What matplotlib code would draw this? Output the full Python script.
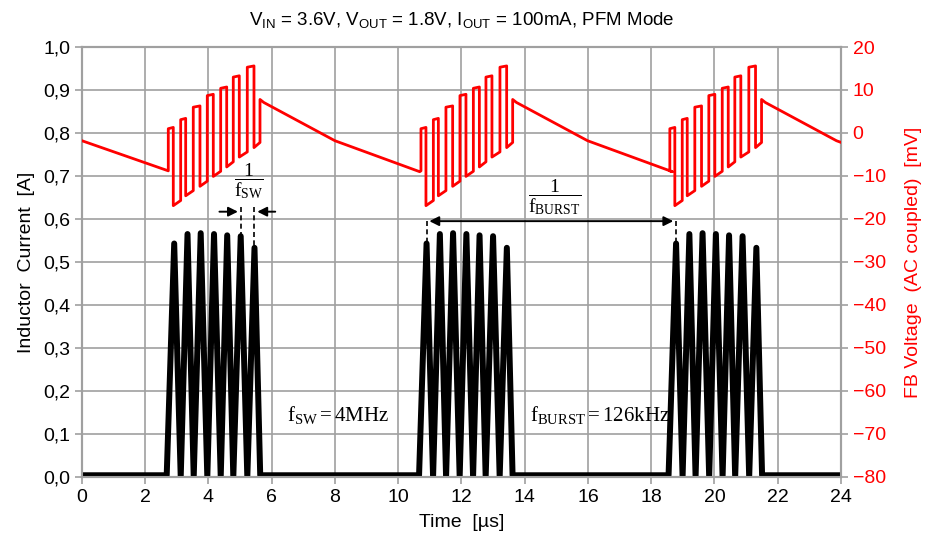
import matplotlib
matplotlib.use('Agg')
import matplotlib.pyplot as plt

plt.rcParams.update({
    'font.family': ['Liberation Sans', 'DejaVu Sans'],
    'mathtext.fontset': 'custom',
    'mathtext.rm': 'Liberation Serif',
    'mathtext.it': 'Liberation Serif:italic',
    'mathtext.bf': 'Liberation Serif:bold',
})

# ---- data ----
# inductor current bursts (time in us, current in A)
burst_start = [2.68, 10.66, 18.55]
peak_offsets = [0.237, 0.658, 1.075, 1.496, 1.913, 2.340, 2.776]
peak_current = [0.543, 0.565, 0.567, 0.565, 0.562, 0.560, 0.533]
valley_offsets = [0.443, 0.854, 1.284, 1.708, 2.106, 2.549]
burst_end_offset = 2.957
baseline_current = 0.004

# feedback voltage (mV), switching part relative to the first rising edge
fb_burst_rise = [2.73, 10.72, 18.59]
fb_rise_offsets = [0.0, 0.392, 0.790, 1.233, 1.657, 2.055, 2.498]
fb_fall_offsets = [0.158, 0.550, 1.002, 1.423, 1.847, 2.245, 2.710]
fb_top = [1.0, 3.1, 6.0, 8.7, 10.4, 13.0, 15.3]
fb_bottom = [-16.9, -14.6, -12.4, -10.1, -7.9, -5.6, -3.4]
fb_before = -8.8
fb_release_offset = 2.900
fb_decay_offsets = [0.0, 0.12, 2.37, 5.05]
fb_decay_mv = [7.8, 7.1, -1.8, -9.0]
fb_start_mv = -1.8

x_ticks = [0, 2, 4, 6, 8, 10, 12, 14, 16, 18, 20, 22, 24]
y_ticks = [0.0, 0.1, 0.2, 0.3, 0.4, 0.5, 0.6, 0.7, 0.8, 0.9, 1.0]
y_labels = ['0,0', '0,1', '0,2', '0,3', '0,4', '0,5', '0,6', '0,7', '0,8', '0,9', '1,0']
fb_ticks = [-80, -70, -60, -50, -40, -30, -20, -10, 0, 10, 20]

# ---- build the piecewise waveforms from the breakpoints ----
t_il, i_l = [0.0], [baseline_current]
for t0 in burst_start:
    pts = [(t0, baseline_current)]
    for k, po in enumerate(peak_offsets):
        pts.append((t0 + po, peak_current[k]))
        if k < len(valley_offsets):
            pts.append((t0 + valley_offsets[k], 0.0))
    pts.append((t0 + burst_end_offset, baseline_current))
    for a, b in pts:
        t_il.append(a)
        i_l.append(b)
t_il.append(24.0)
i_l.append(baseline_current)

t_fb, v_fb = [0.0], [fb_start_mv]
for t0 in fb_burst_rise:
    t_fb.append(t0)
    v_fb.append(fb_before)
    for k in range(len(fb_rise_offsets)):
        t_fb += [t0 + fb_rise_offsets[k], t0 + fb_fall_offsets[k], t0 + fb_fall_offsets[k]]
        v_fb += [fb_top[k], fb_top[k] + 0.3, fb_bottom[k]]
        nxt = fb_rise_offsets[k + 1] if k + 1 < len(fb_rise_offsets) else fb_release_offset
        t_fb.append(t0 + nxt)
        v_fb.append(fb_bottom[k] + 1.2)
    for d, v in zip(fb_decay_offsets, fb_decay_mv):
        t_fb.append(t0 + fb_release_offset + d)
        v_fb.append(v)

# ---- plot ----
fig = plt.figure(figsize=(9.25, 5.44), dpi=100)
ax = fig.add_axes([0.0886, 0.1232, 0.8205, 0.7904])
ax2 = ax.twinx()

grid_col = '#a0a0a0'
ax.grid(True, color=grid_col, linewidth=1.2)
ax.set_axisbelow(True)

ax.plot(t_il, i_l, color='black', linewidth=4.3, solid_joinstyle='round',
        solid_capstyle='round', zorder=3)
ax2.plot(t_fb, v_fb, color='red', linewidth=2.0, zorder=3)

ax.set_xlim(0, 24)
ax.set_ylim(0, 1.0)
ax2.set_ylim(-80, 20)
ax.set_xticks(x_ticks)
ax.set_yticks(y_ticks)
ax.set_yticklabels(y_labels)
ax2.set_yticks(fb_ticks)

for a in (ax, ax2):
    for s in a.spines.values():
        s.set_color(grid_col)
        s.set_linewidth(1.5)
ax.tick_params(axis='both', colors=grid_col, labelcolor='black', labelsize=14, length=5, width=1.2)
ax2.tick_params(axis='y', colors=grid_col, labelcolor='red', labelsize=14, length=5, width=1.2)

ax.set_xlabel('Time  [µs]', fontsize=14, labelpad=6)
ax.set_ylabel('Inductor  Current  [A]', fontsize=14, labelpad=6)
ax2.set_ylabel('FB Voltage  (AC coupled)  [mV]', fontsize=14, color='red', labelpad=14)

ax.set_title(r'V$\mathregular{_{IN}}$ = 3.6V, V$\mathregular{_{OUT}}$ = 1.8V, '
             r'I$\mathregular{_{OUT}}$ = 100mA, PFM Mode', fontsize=13.5, pad=16)

# switching period marker
p6 = burst_start[0] + peak_offsets[5]
p7 = burst_start[0] + peak_offsets[6]
y_sw = 0.617
ax.plot([p6, p6], [y_sw + 0.01, peak_current[5]], color='black', ls=(0, (3, 2)), lw=1.2, zorder=4)
ax.plot([p7, p7], [y_sw + 0.01, peak_current[6]], color='black', ls=(0, (3, 2)), lw=1.2, zorder=4)
ax.annotate('', xy=(p6, y_sw), xytext=(4.26, y_sw),
            arrowprops=dict(arrowstyle='-|>', color='black', lw=1.4, mutation_scale=14))
ax.annotate('', xy=(p7, y_sw), xytext=(6.20, y_sw),
            arrowprops=dict(arrowstyle='-|>', color='black', lw=1.4, mutation_scale=14))
ax.text(5.29, 0.687, r'$\dfrac{1}{\mathrm{f_{SW}}}$', fontsize=14, ha='center', va='center')

# burst period marker
b2 = burst_start[1] + peak_offsets[0]
b3 = burst_start[2] + peak_offsets[0]
y_b = 0.595
ax.plot([b2, b2], [y_b, peak_current[0]], color='black', ls=(0, (3, 2)), lw=1.2, zorder=4)
ax.plot([b3, b3], [y_b, peak_current[0]], color='black', ls=(0, (3, 2)), lw=1.2, zorder=4)
ax.annotate('', xy=(b3, y_b), xytext=(b2, y_b),
            arrowprops=dict(arrowstyle='<|-|>', color='black', lw=1.4, mutation_scale=14))
ax.text(14.96, 0.650, r'$\dfrac{1}{\mathrm{f_{BURST}}}$', fontsize=14, ha='center', va='center')

ax.text(6.47, 0.144, r'$\mathrm{f_{SW} = 4MHz}$', fontsize=15, ha='left', va='center')
ax.text(14.17, 0.144, r'$\mathrm{f_{BURST} = 126kHz}$', fontsize=15, ha='left', va='center')

fig.savefig('out.png', dpi=100)
